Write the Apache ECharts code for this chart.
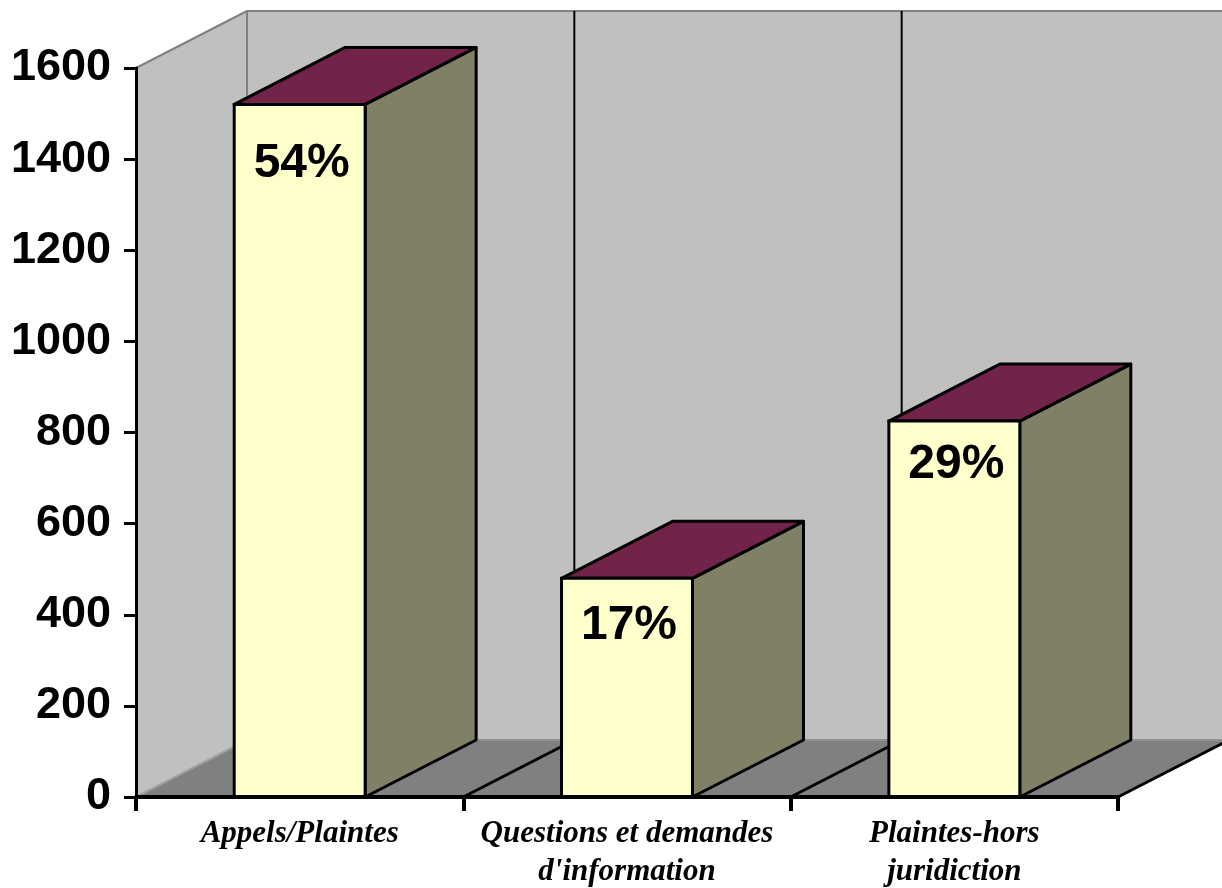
<!DOCTYPE html>
<html>
<head>
<meta charset="utf-8">
<script src="https://cdn.jsdelivr.net/npm/echarts@6/dist/echarts.min.js"></script>
<style>
  html, body { margin: 0; padding: 0; background: #fff; }
  #chart { width: 1222px; height: 888px; }
</style>
</head>
<body>
<div id="chart"></div>
<script>
var categories = ['Appels/Plaintes', 'Questions et demandes\nd\'information', 'Plaintes-hors\njuridiction'];
var values = [1520, 480, 825];
var percents = ['54%', '17%', '29%'];
var yTicks = [0, 200, 400, 600, 800, 1000, 1200, 1400, 1600];

// 3D look
var DX = 111, DY = -57;
var labelDy = [59, 47, 44]; // percent label offset under bar top

var myChart = echarts.init(document.getElementById('chart'));

function poly(points, fill, stroke, lw, z) {
    return {
        type: 'polygon',
        z2: z || 0,
        shape: { points: points },
        style: { fill: fill, stroke: stroke || null, lineWidth: lw || 0, lineJoin: 'round' }
    };
}

function line(x1, y1, x2, y2, color, lw, z) {
    return {
        type: 'line',
        z2: z || 0,
        shape: { x1: x1, y1: y1, x2: x2, y2: y2 },
        style: { stroke: color, lineWidth: lw }
    };
}

// walls + floor
function renderWalls(params, api) {
    var p0 = api.coord([0, 0]);
    var cw = api.size([1, 0])[0];
    var x0 = p0[0] - cw / 2;
    var yBot = p0[1];
    var yTop = api.coord([0, yTicks[yTicks.length - 1]])[1];
    var xEnd = x0 + cw * categories.length;
    var kids = [];
    // back wall
    kids.push(poly([[x0 + DX, yTop + DY], [xEnd + DX + 20, yTop + DY], [xEnd + DX + 20, yBot + DY], [x0 + DX, yBot + DY]], '#c0c0c0'));
    // left wall
    kids.push(poly([[x0, yBot], [x0, yTop], [x0 + DX, yTop + DY], [x0 + DX, yBot + DY]], '#c0c0c0'));
    // floor
    kids.push(poly([[x0, yBot], [xEnd, yBot], [xEnd + DX, yBot + DY], [x0 + DX, yBot + DY]], '#808080'));
    // wall edges
    kids.push(line(x0, yTop, x0 + DX, yTop + DY, '#808080', 2, 1));
    kids.push(line(x0 + DX, yTop + DY, xEnd + DX + 20, yTop + DY, '#808080', 2, 1));
    kids.push(line(x0 + DX, yTop + DY, x0 + DX, yBot + DY, '#808080', 2, 1));
    kids.push(line(x0 + DX, yBot + DY, xEnd + DX + 20, yBot + DY, '#909090', 2, 1));
    kids.push(line(x0, yBot, x0 + DX, yBot + DY, '#a0a0a0', 2, 1));
    // category dividers on back wall and floor
    for (var i = 1; i <= categories.length; i++) {
        var bx = x0 + cw * i;
        if (i < categories.length) {
            kids.push(line(bx + DX, yTop + DY, bx + DX, yBot + DY, '#000', 2, 2));
        }
        kids.push(line(bx, yBot, bx + DX, yBot + DY, '#000', 3, 2));
    }
    return { type: 'group', children: kids };
}

function renderBar(params, api) {
    var idx = api.value(0);
    var base = api.coord([idx, 0]);
    var top = api.coord([idx, api.value(1)]);
    var w = api.size([1, 0])[0] * 0.4;
    var xl = base[0] - w / 2, xr = base[0] + w / 2;
    var yb = base[1], yt = top[1];
    var kids = [];
    kids.push(poly([[xr, yb], [xr, yt], [xr + DX, yt + DY], [xr + DX, yb + DY]], '#808066', '#000', 3));
    kids.push(poly([[xl, yt], [xr, yt], [xr + DX, yt + DY], [xl + DX, yt + DY]], '#722349', '#000', 3));
    kids.push({
        type: 'rect',
        shape: { x: xl, y: yt, width: w, height: yb - yt },
        style: { fill: '#ffffcc', stroke: '#000', lineWidth: 3 }
    });
    kids.push({
        type: 'text',
        z2: 5,
        style: {
            x: base[0] + 2,
            y: yt + labelDy[params.dataIndex],
            text: percents[params.dataIndex],
            textAlign: 'center',
            textVerticalAlign: 'middle',
            fill: '#000',
            font: 'bold 48px "Liberation Sans", Arial, sans-serif'
        }
    });
    return { type: 'group', children: kids };
}

myChart.setOption({
    backgroundColor: '#fff',
    animation: false,
    grid: { left: 136, right: 104, top: 68, bottom: 91, containLabel: false, outerBoundsMode: 'none' },
    xAxis: {
        type: 'category',
        data: categories,
        axisLine: { show: true, lineStyle: { color: '#000', width: 4 } },
        axisTick: { show: true, inside: false, length: 14, lineStyle: { color: '#000', width: 4 } },
        axisLabel: {
            margin: 18,
            color: '#000',
            fontFamily: '"Liberation Serif", "Times New Roman", serif',
            fontStyle: 'italic',
            fontWeight: 'bold',
            fontSize: 31,
            lineHeight: 38,
            interval: 0
        },
        z: 10
    },
    yAxis: {
        type: 'value',
        min: 0,
        max: 1600,
        interval: 200,
        axisLine: { show: true, lineStyle: { color: '#000', width: 3 } },
        axisTick: { show: true, inside: false, length: 12, lineStyle: { color: '#000', width: 3 } },
        splitLine: { show: false },
        axisLabel: {
            margin: 25,
            color: '#000',
            fontFamily: '"Liberation Sans", Arial, sans-serif',
            fontWeight: 'bold',
            fontSize: 45,
            formatter: function (v) { return String(v); }
        },
        z: 10
    },
    series: [{
        type: 'custom',
        name: 'walls',
        data: [[0, 0]],
        encode: { x: 0, y: 1 },
        renderItem: renderWalls,
        clip: false,
        silent: true,
        z: 1
    }, {
        type: 'custom',
        name: 'bars',
        data: values.map(function (v, i) { return [i, v]; }),
        encode: { x: 0, y: 1 },
        renderItem: renderBar,
        clip: false,
        z: 5
    }]
});
</script>
</body>
</html>
